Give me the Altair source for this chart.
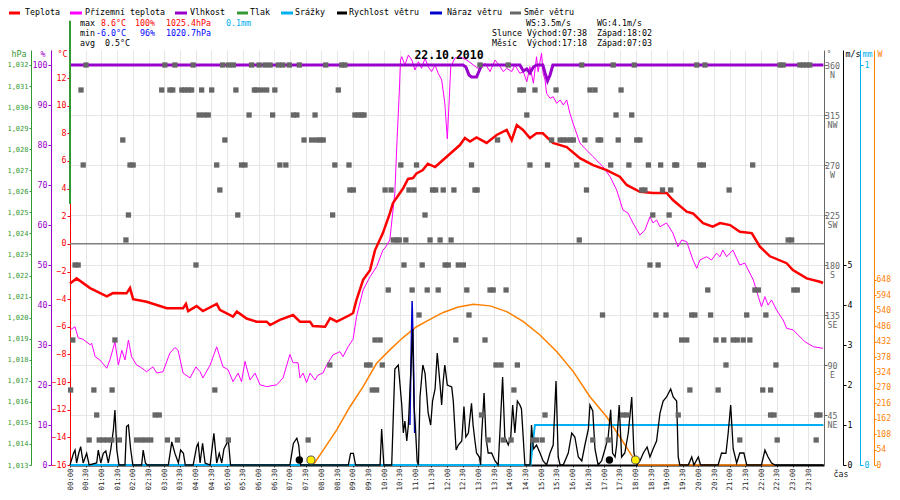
import json
import altair as alt
import pandas as pd

# ---------------- data ----------------
tick_labels = ["00:00","00:30","01:00","01:30","02:00","02:30","03:00","03:30",
               "04:00","04:30","05:00","05:30","06:00","06:30","07:00","07:30",
               "08:00","08:30","09:00","09:30","10:00","10:30","11:00","11:30",
               "12:00","12:30","13:00","13:30","14:00","14:30","15:00","15:30",
               "16:00","16:30","17:00","17:30","18:00","18:30","19:00","19:30",
               "20:00","20:30","21:00","21:30","22:00","22:30","23:00","23:30"]
compass = ["", "NE", "E", "SE", "S", "SW", "W", "NW", "N"]

temp_t = [0.00,0.21,0.64,1.17,1.37,1.80,1.91,2.01,2.44,2.86,3.08,3.60,3.69,3.76,4.03,4.23,
          4.67,4.77,5.19,5.31,5.62,5.94,6.26,6.37,6.68,7.10,7.32,7.64,7.73,8.12,8.28,8.49,
          8.91,9.01,9.12,9.33,9.55,9.71,9.96,10.18,10.28,10.60,10.76,10.92,11.03,11.23,11.39,
          11.62,11.99,12.41,12.57,12.73,12.94,13.26,13.58,13.90,14.06,14.22,14.42,14.64,14.85,
          15.05,15.37,15.81,16.23,16.65,17.08,17.50,17.72,18.14,18.56,18.99,19.19,19.63,19.83,
          20.15,20.46,20.69,21.01,21.32,21.70,21.96,22.28,22.81,23.01,23.45,23.87,23.97]
temp_v = [-2.86,-2.5,-3.2,-3.8,-3.56,-3.58,-3.2,-4.0,-4.19,-4.5,-4.66,-4.66,-4.35,-4.86,-4.5,-4.86,
          -4.35,-4.78,-5.27,-4.9,-5.4,-5.63,-5.63,-5.87,-5.5,-5.15,-5.63,-5.63,-5.94,-6.0,-5.37,-5.63,
          -5.15,-5.0,-4.06,-2.6,-1.9,-0.45,0.78,2.2,2.95,4.0,4.7,4.76,5.1,5.34,5.8,
          5.56,6.3,7.15,7.66,7.4,7.7,7.3,7.88,8.24,7.5,8.6,8.24,7.66,8.0,
          8.0,7.3,7.0,6.2,5.7,5.34,4.86,4.26,3.77,3.68,3.68,3.17,2.33,2.2,
          1.5,1.24,1.5,1.36,0.88,0.78,-0.2,-0.9,-1.4,-1.9,-2.5,-2.74,-2.83]

ground_temp = [(0.00,-6.23),(0.16,-6.0),(0.26,-6.8),(0.41,-6.9),(0.64,-7.3),(0.69,-7.2),(0.80,-8.16),
    (0.95,-8.4),(1.17,-9.0),(1.27,-8.4),(1.43,-7.1),(1.54,-8.76),(1.65,-7.7),(1.75,-8.4),(1.86,-6.96),
    (1.96,-8.16),(2.12,-8.77),(2.23,-8.9),(2.44,-9.25),(2.64,-8.9),(2.76,-9.35),(2.96,-9.25),(3.18,-7.9),
    (3.34,-7.5),(3.44,-7.7),(3.60,-9.35),(3.82,-9.7),(4.01,-8.9),(4.14,-9.25),(4.23,-9.7),(4.46,-8.77),
    (4.67,-7.45),(4.87,-8.9),(5.03,-9.1),(5.19,-9.97),(5.35,-9.35),(5.46,-9.97),(5.57,-8.5),(5.73,-9.85),
    (5.89,-9.35),(6.05,-10.2),(6.26,-10.33),(6.58,-10.2),(6.78,-9.7),(7.00,-8.0),(7.10,-8.6),(7.26,-8.6),
    (7.32,-9.7),(7.42,-9.35),(7.53,-10.04),(7.64,-9.35),(7.80,-9.85),(7.89,-9.5),(8.05,-9.35),(8.17,-8.77),
    (8.37,-8.04),(8.59,-7.8),(8.69,-8.16),(8.85,-7.45),(9.01,-6.9),(9.12,-5.27),(9.33,-3.34),(9.55,-2.38),
    (9.76,-1.65),(9.96,-0.45),(10.03,-0.3),(10.18,0.28),(10.34,3.68),(10.40,7.0),(10.48,10.9),(10.52,13.3),
    (10.56,13.54),(10.66,12.94),(10.77,13.66),(10.88,13.3),(10.98,12.58),(11.09,13.18),(11.19,12.7),
    (11.30,13.43),(11.40,12.82),(11.51,12.46),(11.62,12.94),(11.72,12.34),(11.83,11.86),(11.93,10.19),
    (12.01,7.6),(12.07,10.41),(12.12,12.82),(12.25,13.43),(12.41,13.54),(12.63,13.3),(12.84,12.94),
    (13.05,12.58),(13.21,13.06),(13.37,12.46),(13.53,13.3),(13.69,12.82),(13.79,12.46),(13.90,12.7),
    (14.06,12.46),(14.16,12.94),(14.32,12.34),(14.43,12.46),(14.54,11.73),(14.64,12.82),(14.75,11.62),
    (14.85,13.54),(14.90,12.46),(15.01,13.79),(15.06,12.34),(15.12,11.86),(15.17,10.89),(15.28,10.53),
    (15.38,10.65),(15.49,10.17),(15.60,10.41),(15.70,10.05),(15.81,10.41),(15.91,9.47),(16.01,8.74),
    (16.23,7.3),(16.44,6.79),(16.65,6.31),(16.96,5.59),(17.19,4.86),(17.40,3.9),(17.60,2.45),(17.76,2.23),
    (17.92,1.51),(18.14,0.64),(18.30,1.0),(18.46,1.96),(18.56,1.51),(18.67,1.73),(18.78,1.24),(18.99,1.51),
    (19.19,0.78),(19.35,-0.21),(19.47,0.28),(19.63,0.15),(19.83,-1.17),(19.95,-1.77),(20.05,-1.17),
    (20.26,-0.93),(20.42,-1.17),(20.58,-0.68),(20.69,-0.93),(20.78,-0.45),(20.90,-0.93),(21.10,-0.45),
    (21.32,-1.53),(21.48,-1.39),(21.75,-2.62),(21.91,-3.82),(22.01,-4.55),(22.12,-3.82),(22.22,-4.43),
    (22.33,-4.06),(22.49,-4.79),(22.70,-5.51),(22.81,-6.11),(23.02,-6.23),(23.18,-6.6),(23.39,-7.08),
    (23.66,-7.44),(23.97,-7.56)]

humidity = [(0.0,100),(12.51,100),(12.60,99.5),(12.70,97.5),(12.78,97),(12.94,97),(13.05,99),(13.10,100),
    (14.32,100),(14.43,98.5),(14.54,99),(14.64,98),(14.75,99.5),(14.85,100),(15.05,100),(15.12,98),
    (15.20,96),(15.28,97.5),(15.37,100),(23.98,100)]

pressure = [(0.0,1034.1),(0.0,1025.4)]

rain = [(0.0,0),(14.66,0),(14.73,0.055),(14.80,0.1),(23.98,0.1)]

sun = [(7.74,0),(8.06,52),(8.49,123),(8.91,204),(9.33,274),(9.76,356),(10.18,403),(10.61,447),
    (11.03,484),(11.46,510),(11.88,534),(12.36,553),(12.84,563),(13.37,557),(13.90,537),(14.43,502),
    (14.96,455),(15.49,397),(16.02,327),(16.55,239),(17.08,169),(17.50,99),(17.77,52),(17.98,17),
    (18.09,0),(22.44,0)]

gust = [(10.82,1.0),(10.86,2.9),(10.89,4.1),(10.93,2.7),(10.97,0.8)]

wind = [(0.00,0),(0.11,0.29),(0.16,0.375),(0.21,0.05),(0.28,0.3),(0.34,0.46),(0.42,0.05),(0.53,0.29),
    (0.61,0),(0.85,0.05),(0.90,0.375),(0.98,0.05),(1.06,0.29),(1.14,0.35),(1.22,0.05),(1.30,0.4),
    (1.38,0.875),(1.43,1.375),(1.49,0.375),(1.56,0),(1.75,0),(1.80,0.96),(1.86,1.0),(1.93,0.4),(2.00,0),
    (2.28,0),(2.33,0.375),(2.40,0.05),(2.46,0),(3.13,0),(3.24,0.58),(3.34,0.29),(3.45,0.05),(3.52,0.375),
    (3.61,0.29),(3.67,0),(3.92,0),(4.03,0.46),(4.08,0.54),(4.14,0.05),(4.22,0.54),(4.30,0.05),(4.46,0),
    (4.58,0.79),(4.67,0.05),(4.75,0.29),(4.83,0.05),(4.90,0.4),(4.99,0.54),(5.04,0.625),(5.11,0),(7.00,0),
    (7.11,0.54),(7.22,0.67),(7.28,0.5),(7.34,0),(8.86,0),(8.93,0.29),(9.02,0.29),(9.09,0),(9.87,0),
    (9.92,0.9),(9.99,0),(10.24,0),(10.34,2.4),(10.45,2.5),(10.56,1.5),(10.61,0.8),(10.66,1.1),(10.72,0.6),
    (10.77,1.0),(10.84,2.2),(10.91,3.4),(10.95,1.5),(10.99,1.0),(11.05,0.1),(11.09,0),(11.14,1.7),
    (11.23,2.5),(11.30,2.3),(11.40,1.3),(11.48,1.0),(11.54,1.6),(11.62,1.9),(11.69,2.8),(11.78,2.0),
    (11.83,1.5),(11.88,2.1),(11.93,2.5),(12.01,2.0),(12.15,1.95),(12.20,1.6),(12.29,0.375),(12.36,0.5),
    (12.47,0.6),(12.54,1.46),(12.60,0.7),(12.68,0.8),(12.78,1.54),(12.83,1.0),(12.89,0.6),(12.94,0.3),
    (13.03,0.2),(13.07,0),(13.10,0.7),(13.18,1.8),(13.24,0.7),(13.31,0.3),(13.42,0.3),(13.53,0.1),
    (13.63,0),(13.69,0.9),(13.77,2.2),(13.84,0.7),(13.95,0.5),(14.03,0.7),(14.09,1.5),(14.16,0.8),
    (14.24,1.6),(14.32,1.5),(14.37,1.4),(14.48,0),(14.64,0),(14.69,1.0),(14.75,0.4),(14.85,0.5),
    (14.96,0.3),(15.06,0.1),(15.17,0),(15.28,0.3),(15.38,0.5),(15.47,2.1),(15.54,0.2),(15.60,0),
    (15.70,0),(15.86,0.3),(15.97,0.8),(16.07,0.7),(16.18,0.2),(16.29,0.1),(16.39,0.5),(16.50,0.9),
    (16.55,1.5),(16.64,1.35),(16.71,0.4),(16.81,0),(16.92,0.1),(17.03,0.4),(17.13,0.7),(17.21,1.38),
    (17.27,0.3),(17.35,0.2),(17.40,0.5),(17.48,1.5),(17.56,0.2),(17.66,0.3),(17.77,0.8),(17.88,1.7),
    (17.95,0.3),(18.04,0),(18.14,0.1),(18.25,0.3),(18.37,0.45),(18.46,0.2),(18.56,0.4),(18.67,0.6),
    (18.78,1.3),(18.88,1.6),(18.99,1.7),(19.12,1.9),(19.20,1.7),(19.31,1.6),(19.36,0.2),(19.41,0),
    (19.68,0),(19.79,0.2),(19.86,0),(20.00,0.2),(20.07,0),(20.63,0),(20.74,0.3),(20.88,0.29),(20.95,0.8),
    (21.03,1.5),(21.11,0.4),(21.22,0.05),(21.32,0.3),(21.45,0.3),(21.54,0),(22.01,0),(22.12,0.375),
    (22.22,0.2),(22.33,0.05),(22.44,0),(23.98,0)]

dir_360 = [0.51,3.02,3.34,3.92,4.86,5.05,5.20,5.78,6.02,6.21,6.37,6.63,6.77,6.98,7.30,8.14,8.65,8.75,
           13.05,13.95,16.29,17.29,17.96,19.95,20.21,22.60,22.70,23.23,23.34,23.45,23.55]
dir_337 = [0.35,2.92,3.18,3.27,3.56,3.66,3.77,3.87,4.19,4.51,5.28,5.87,5.94,6.10,6.26,6.52,8.54,
           14.32,14.43,14.80,15.47,16.55,16.71,17.54]
dir_315 = [4.11,4.26,4.40,5.70,6.45,7.11,7.22,7.80,9.07,9.18,9.28,9.36,14.54,17.38,17.88]
dir_292 = [1.68,4.93,7.45,7.69,7.85,7.96,8.06,13.61,15.33,15.60,15.70,15.81,15.94,16.02,16.39,16.81,
           16.89,17.45,18.04,18.14]
dir_270 = [0.42,1.91,2.01,4.67,5.46,5.57,6.68,6.87,8.43,8.88,10.53,11.03,12.78,14.64,15.20,16.13,17.21,
           17.79,18.41,18.80,19.25,19.31,20.05,20.16,21.73]
dir_247 = [4.77,8.91,9.02,10.03,10.22,10.79,10.95,11.54,11.64,11.88,12.22,12.89,12.96,16.44,18.20,18.30,
           18.86,19.12,20.98]
dir_225 = [1.86,5.34,8.36,11.30,18.55,19.07]
dir_202 = [1.78,10.29,10.40,10.48,10.69,11.46,11.78,12.13,16.21,22.86,22.97]
dir_180 = [0.16,0.26,4.01,10.63,11.21,11.94,12.04,12.36,12.52,18.46,18.72]
dir_157 = [10.13,10.89,11.37,11.72,12.63,13.37,13.47,13.88,20.30,21.80,21.91,23.04,23.15]
dir_135 = [11.11,12.70,16.95,18.65,18.97,19.79,19.89,20.39,21.54,22.15]
dir_112 = [0.09,1.43,9.71,9.87,12.28,13.21,19.47,19.63,20.56,20.81,21.11,21.24,21.43,21.64]
dir_90 = [8.27,9.44,9.55,9.94,13.56,13.72,14.24,20.88,22.47]
dir_67 = [0.02,0.76,1.34,4.61,9.62,9.76,14.13,19.73,20.63,22.05,22.30]
dir_45 = [0.85,2.71,2.84,13.10,15.12,17.59,17.72,19.36,22.30,22.41,23.77,23.87]
dir_22 = [0.61,0.93,1.06,1.19,1.33,1.57,2.12,2.28,2.42,2.57,3.10,3.42,5.04,7.58,13.31,13.79,14.04,
          14.73,14.85,15.03,16.64,17.13,21.32,22.51,23.75]

moon_t = [7.30, 17.17]
sun_t = [7.67, 18.00]

legend_names = ["Teplota", "Přízemní teplota", "Vlhkost", "Tlak", "Srážky",
                "Rychlost větru", "Náraz větru", "Směr větru"]
date_text = "22.10.2010"

# ---------------- styling ----------------
FONT = "DejaVu Sans Mono"
RED, MAGENTA, PURPLE, GREEN = "#ff0000", "#ff00ff", "#9900cc", "#339933"
CYAN, BLUE, GRAY, ORANGE, MINBLUE = "#00b0f0", "#0000cc", "#666666", "#ff8000", "#0000ff"
legend_colors = [RED, MAGENTA, PURPLE, GREEN, CYAN, "#000000", BLUE, GRAY]

W, H = 754, 415
PL, PT = 70, 50


def sc(lo, hi):
    return alt.Scale(domain=[lo, hi], nice=False, zero=False)


T_SC = sc(-16, 14.026)
H_SC = sc(0, 103.75)
P_SC = sc(1013, 1032.71)
D_SC = sc(0, 373.5)
S_SC = sc(0, 10.375)
R_SC = sc(0, 1.0375)
L_SC = sc(0, 1452.6)


def yaxis(orient, offset, color, values, title, title_x, **extra):
    opts = dict(orient=orient, offset=offset, values=values, title=title,
                titleAngle=0, titleX=title_x, titleY=-1,
                titleAlign="right" if orient == "left" else "left",
                titleBaseline="top", titleColor=color, titleFont=FONT,
                titleFontSize=8.3, titleFontWeight="normal",
                domainColor=color, tickColor=color, labelColor=color,
                labelFont=FONT, labelFontSize=8.3, tickSize=3, labelPadding=1,
                grid=False, labelOverlap=False)
    opts.update(extra)
    return alt.Axis(**opts)


t_axis = yaxis("left", 0, RED, list(range(-16, 13, 2)), "°C", -3)
h_axis = yaxis("left", 19, PURPLE, list(range(0, 101, 10)), "%", -6)
p_axis = yaxis("left", 39, GREEN, list(range(1013, 1033)), "hPa", -5,
               labelFontSize=7, tickSize=2, labelPadding=1)
d_axis = yaxis("right", 0, GRAY, list(range(45, 361, 45)), "°", 2,
               labelExpr="[datum.label, " + json.dumps(compass) + "[round(datum.value/45)]]",
               labelAlign="center", labelPadding=5, labelBaseline="top", labelOffset=-4,
               labelLineHeight=9, grid=True, gridColor="#e6e6e6")
s_axis = yaxis("right", 19, "#000000", [0, 1, 2, 3, 4, 5], "m/s", 2, format=".0f")
r_axis = yaxis("right", 36, CYAN, [0, 1], "mm", 2, format=".0f")
l_axis = yaxis("right", 50, ORANGE, list(range(0, 649, 54)), "W", 3,
               labelFontSize=8, tickSize=2, labelPadding=0, format=".0f")

tick_times = [i / 2 for i in range(len(tick_labels))]
xaxis = alt.Axis(values=tick_times,
                 labelExpr=json.dumps(tick_labels) + "[round(datum.value*2)]",
                 labelAngle=270, labelFontSize=7.3, labelFont=FONT, labelColor="#222222",
                 labelPadding=1, labelOverlap=False, labelFlush=False,
                 tickColor="#444444", tickSize=2, domainColor="#000000", domainWidth=2,
                 grid=True, gridColor="#e6e6e6",
                 title="čas", titleX=W + 9, titleY=4, titleAngle=0, titleAlign="left",
                 titleBaseline="top", titleFont=FONT, titleFontSize=8.3,
                 titleFontWeight="normal", titleColor="#222222")
X = alt.X("t:Q", scale=alt.Scale(domain=[0, 24], nice=False, zero=False), axis=xaxis)


def pdf(pairs):
    return pd.DataFrame(pairs, columns=["t", "v"])


def line(df, color, width, scale, axis):
    return alt.Chart(df).mark_line(color=color, strokeWidth=width).encode(
        x=X, y=alt.Y("v:Q", scale=scale, axis=axis))


layers = []
layers.append(alt.Chart(pd.DataFrame({"v": [0]})).mark_rule(color="#7f7f7f", strokeWidth=1.5)
              .encode(y=alt.Y("v:Q", scale=T_SC, axis=None)))
layers.append(line(pdf(sun), ORANGE, 1.5, L_SC, l_axis))
layers.append(line(pdf(rain), CYAN, 2, R_SC, r_axis))
layers.append(line(pdf(gust), BLUE, 1.5, S_SC, None))
layers.append(line(pdf(wind), "#000000", 1.3, S_SC, s_axis))
layers.append(line(pdf(ground_temp), MAGENTA, 1, T_SC, None))
layers.append(line(pd.DataFrame({"t": temp_t, "v": temp_v}), RED, 2.5, T_SC, t_axis))
layers.append(line(pdf(humidity), PURPLE, 3, H_SC, h_axis))
layers.append(line(pdf(pressure), GREEN, 2, P_SC, p_axis))

dir_rows = []
for deg, times in [(360, dir_360), (337.5, dir_337), (315, dir_315), (292.5, dir_292),
                   (270, dir_270), (247.5, dir_247), (225, dir_225), (202.5, dir_202),
                   (180, dir_180), (157.5, dir_157), (135, dir_135), (112.5, dir_112),
                   (90, dir_90), (67.5, dir_67), (45, dir_45), (22.5, dir_22)]:
    for t in times:
        dir_rows.append({"t": t, "v": deg})
layers.append(alt.Chart(pd.DataFrame(dir_rows)).mark_square(size=28, color=GRAY, opacity=1)
              .encode(x=X, y=alt.Y("v:Q", scale=D_SC, axis=d_axis)))

layers.append(alt.Chart(pd.DataFrame({"t": moon_t})).mark_circle(size=55, color="#000000", opacity=1)
              .encode(x=X, y=alt.value(H - 5)))
layers.append(alt.Chart(pd.DataFrame({"t": sun_t})).mark_point(
    filled=True, fill="#ffee00", stroke="#555555", strokeWidth=1, size=65, opacity=1, shape="circle")
    .encode(x=X, y=alt.value(H - 5)))

blank = pd.DataFrame({"k": [0]})


def txt(s, px, py, color="#000000", size=8.3, weight="normal", align="left"):
    return alt.Chart(blank).mark_text(text=s, align=align, baseline="middle", fontSize=size,
                                      fontWeight=weight, color=color, font=FONT).encode(
        x=alt.value(px - PL), y=alt.value(py - PT))


def dash(px1, px2, py, color):
    return alt.Chart(blank).mark_rule(color=color, strokeWidth=3).encode(
        x=alt.value(px1 - PL), x2=alt.value(px2 - PL), y=alt.value(py - PT))


legend_pos = [(9, 20, 25), (70, 82, 85), (175, 187, 190), (237, 248, 250), (281, 293, 295),
              (337, 347, 349), (430, 442, 447), (510, 521, 524)]
LY = 13
for name, color, (a, b, c) in zip(legend_names, legend_colors, legend_pos):
    layers.append(dash(a, b, LY, color))
    layers.append(txt(name, c, LY))

layers += [
    txt("max", 80, 24), txt("8.6°C", 101, 24, RED), txt("100%", 135, 24, RED),
    txt("1025.4hPa", 166, 24, RED), txt("0.1mm", 226, 24, CYAN),
    txt("min", 80, 34), txt("-6.0°C", 96, 34, MINBLUE), txt("96%", 140, 34, MINBLUE),
    txt("1020.7hPa", 166, 34, MINBLUE),
    txt("avg", 80, 44), txt("0.5°C", 105, 44),
    txt("WS:3.5m/s", 526, 24), txt("WG:4.1m/s", 597, 24),
    txt("Slunce", 492, 34), txt("Východ:07:38", 527, 34), txt("Západ:18:02", 597, 34),
    txt("Měsíc", 492, 44), txt("Východ:17:18", 527, 44), txt("Západ:07:03", 597, 44),
    txt(date_text, 449, 56, size=11.5, weight="bold", align="center"),
]

chart = alt.layer(*layers).resolve_scale(y="independent").properties(
    width=W, height=H,
    padding={"left": 62, "top": 42, "right": 68, "bottom": 27},
    autosize=alt.AutoSizeParams(type="none"),
).configure_view(stroke=None)

chart.save("out.html", embed_options={"renderer": "svg", "actions": False})
